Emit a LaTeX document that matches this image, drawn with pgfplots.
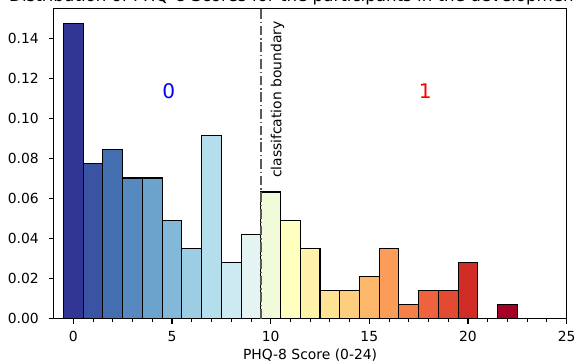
\documentclass[border=0pt]{standalone}
\usepackage{fontspec}
\setmainfont{DejaVu Sans}
\usepackage{pgfplots}
\pgfplotsset{compat=1.18}
\definecolor{c0}{RGB}{49,54,149}
\definecolor{c1}{RGB}{58,83,163}
\definecolor{c2}{RGB}{67,111,177}
\definecolor{c3}{RGB}{86,137,191}
\definecolor{c4}{RGB}{108,163,204}
\definecolor{c5}{RGB}{131,185,216}
\definecolor{c6}{RGB}{156,205,227}
\definecolor{c7}{RGB}{181,222,236}
\definecolor{c8}{RGB}{205,234,243}
\definecolor{c9}{RGB}{227,244,243}
\definecolor{c10}{RGB}{241,250,217}
\definecolor{c11}{RGB}{255,255,191}
\definecolor{c12}{RGB}{254,241,170}
\definecolor{c13}{RGB}{254,227,148}
\definecolor{c14}{RGB}{254,206,127}
\definecolor{c15}{RGB}{253,183,106}
\definecolor{c16}{RGB}{251,156,89}
\definecolor{c17}{RGB}{246,128,75}
\definecolor{c18}{RGB}{239,98,62}
\definecolor{c19}{RGB}{226,74,49}
\definecolor{c20}{RGB}{210,44,39}
\definecolor{c22}{RGB}{165,0,38}
\definecolor{bline}{RGB}{90,90,90}
\begin{document}
\begin{tikzpicture}
\begin{axis}[
  scale only axis,
  width=369.4pt, height=223.1pt,
  at={(0,0)}, anchor=south west,
  xmin=-1, xmax=25, ymin=0, ymax=0.155,
  xtick={0,5,10,15,20,25},
  minor x tick num=4,
  ytick={0,0.02,0.04,0.06,0.08,0.10,0.12,0.14},
  yticklabel style={/pgf/number format/fixed,/pgf/number format/fixed zerofill,/pgf/number format/precision=2},
  scaled y ticks=false,
  /pgf/number format/assume math mode=true,
  tick align=outside,
  tick pos=left,
  major tick length=3.5pt,
  minor tick length=2pt,
  every tick/.style={black, line width=0.8pt},
  minor tick style={line width=0.6pt},
  axis line style={line width=0.8pt},
  tick label style={font=\fontsize{10}{12}\selectfont, inner sep=0pt},
  xticklabel style={anchor=north, yshift=-5.6pt},
  yticklabel style={anchor=east, xshift=-7pt},
  xlabel={PHQ-8 Score (0-24)},
  xlabel style={at={(axis description cs:0.5,0)}, anchor=base, yshift=-29.2pt, inner sep=0pt, font=\fontsize{10}{12}\selectfont},
  title={Distribution of PHQ-8 Scores for the participants in the development set},
  every axis title/.style={at={(axis description cs:0.5,1)}, anchor=base, yshift=5.2pt, inner sep=0pt, font=\fontsize{12}{14}\selectfont},
  every axis plot/.append style={ybar, bar width=1, bar shift=0pt, draw=black, line width=0.8pt},
]
\addplot[fill=c0] coordinates {(0,0.14789)};
\addplot[fill=c1] coordinates {(1,0.07746)};
\addplot[fill=c2] coordinates {(2,0.08451)};
\addplot[fill=c3] coordinates {(3,0.07042)};
\addplot[fill=c4] coordinates {(4,0.07042)};
\addplot[fill=c5] coordinates {(5,0.04930)};
\addplot[fill=c6] coordinates {(6,0.03521)};
\addplot[fill=c7] coordinates {(7,0.09155)};
\addplot[fill=c8] coordinates {(8,0.02817)};
\addplot[fill=c9] coordinates {(9,0.04225)};
\addplot[fill=c10] coordinates {(10,0.06338)};
\addplot[fill=c11] coordinates {(11,0.04930)};
\addplot[fill=c12] coordinates {(12,0.03521)};
\addplot[fill=c13] coordinates {(13,0.01408)};
\addplot[fill=c14] coordinates {(14,0.01408)};
\addplot[fill=c15] coordinates {(15,0.02113)};
\addplot[fill=c16] coordinates {(16,0.03521)};
\addplot[fill=c17] coordinates {(17,0.00704)};
\addplot[fill=c18] coordinates {(18,0.01408)};
\addplot[fill=c19] coordinates {(19,0.01408)};
\addplot[fill=c20] coordinates {(20,0.02817)};
\addplot[fill=c22] coordinates {(22,0.00704)};
\draw[bline, line width=1.1pt, dash pattern=on 7pt off 2pt on 1pt off 2pt] (axis cs:9.5,0) -- (axis cs:9.5,0.155);
\node[rotate=90, anchor=north west, inner sep=0pt, font=\fontsize{10}{12}\selectfont] at (axis cs:10,0.0703) {classifcation boundary};
\node[anchor=base west, inner sep=0pt, text=blue, font=\fontsize{14.5}{16}\selectfont] at (axis cs:4.5,0.11) {0};
\node[anchor=base west, inner sep=0pt, text=red, font=\fontsize{14.5}{16}\selectfont] at (axis cs:17.5,0.11) {1};
\end{axis}
\pgfresetboundingbox
\path[use as bounding box] (-38.6pt,-30.4pt) rectangle (374.7pt,229.5pt);
\end{tikzpicture}
\end{document}
